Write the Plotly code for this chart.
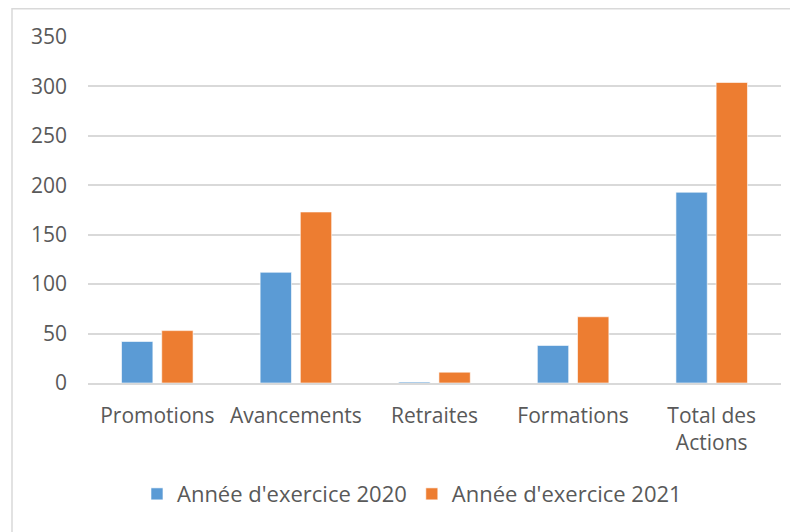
import plotly.graph_objs as go

# Données
categories = ["Promotions", "Avancements", "Retraites", "Formations", "Total des<br>Actions"]
annee_2020 = [42, 112, 1, 38, 193]
annee_2021 = [53, 173, 11, 67, 304]
y_ticks = [0, 50, 100, 150, 200, 250, 300, 350]

font_family = "Open Sans, Noto Sans, sans-serif"
text_color = "#595959"
grid_color = "#D9D9D9"

fig = go.Figure()

fig.add_trace(go.Bar(x=categories,
                     y=annee_2020,
                     name="Année d'exercice 2020",
                     marker=dict(color="#5B9BD5", line=dict(color="rgba(255,255,255,0.6)", width=1))
                     )
              )
fig.add_trace(go.Bar(x=categories,
                     y=annee_2021,
                     name="Année d'exercice 2021",
                     marker=dict(color="#ED7D31", line=dict(color="rgba(255,255,255,0.6)", width=1))
                     )
              )

# la page ajoute 8 px de marge autour du graphique : on réduit la taille en conséquence
fig.update_layout(
    width=790,
    height=524,
    margin=dict(l=80, r=17, t=29, b=149),
    paper_bgcolor="white",
    plot_bgcolor="white",
    barmode="group",
    bargap=0.42,
    bargroupgap=0.22,
    font=dict(family=font_family, size=21, color=text_color),
    showlegend=True,
    legend=dict(orientation="h", x=0.4675, xanchor="center", y=-0.321, yanchor="middle",
                font=dict(size=22, color=text_color), itemwidth=30, tracegroupgap=0,
                traceorder="normal"),
)

fig.update_yaxes(range=[0, 350], tickvals=y_ticks, showgrid=True, gridcolor=grid_color,
                 gridwidth=1.5, zeroline=False, showline=False, ticks="", ticklabelstandoff=20,
                 fixedrange=True)
fig.update_xaxes(showline=True, linecolor=grid_color, linewidth=1.5, ticks="",
                 ticklabelstandoff=13, fixedrange=True)

# Cadre extérieur du graphique
fig.add_shape(type="rect", xref="paper", yref="paper",
              x0=(4 - 80) / 693, x1=1.05, y0=-0.5, y1=(375 - 0.75) / 346,
              line=dict(color=grid_color, width=1.5), fillcolor="rgba(0,0,0,0)", layer="below")

fig.write_html("out.html")
